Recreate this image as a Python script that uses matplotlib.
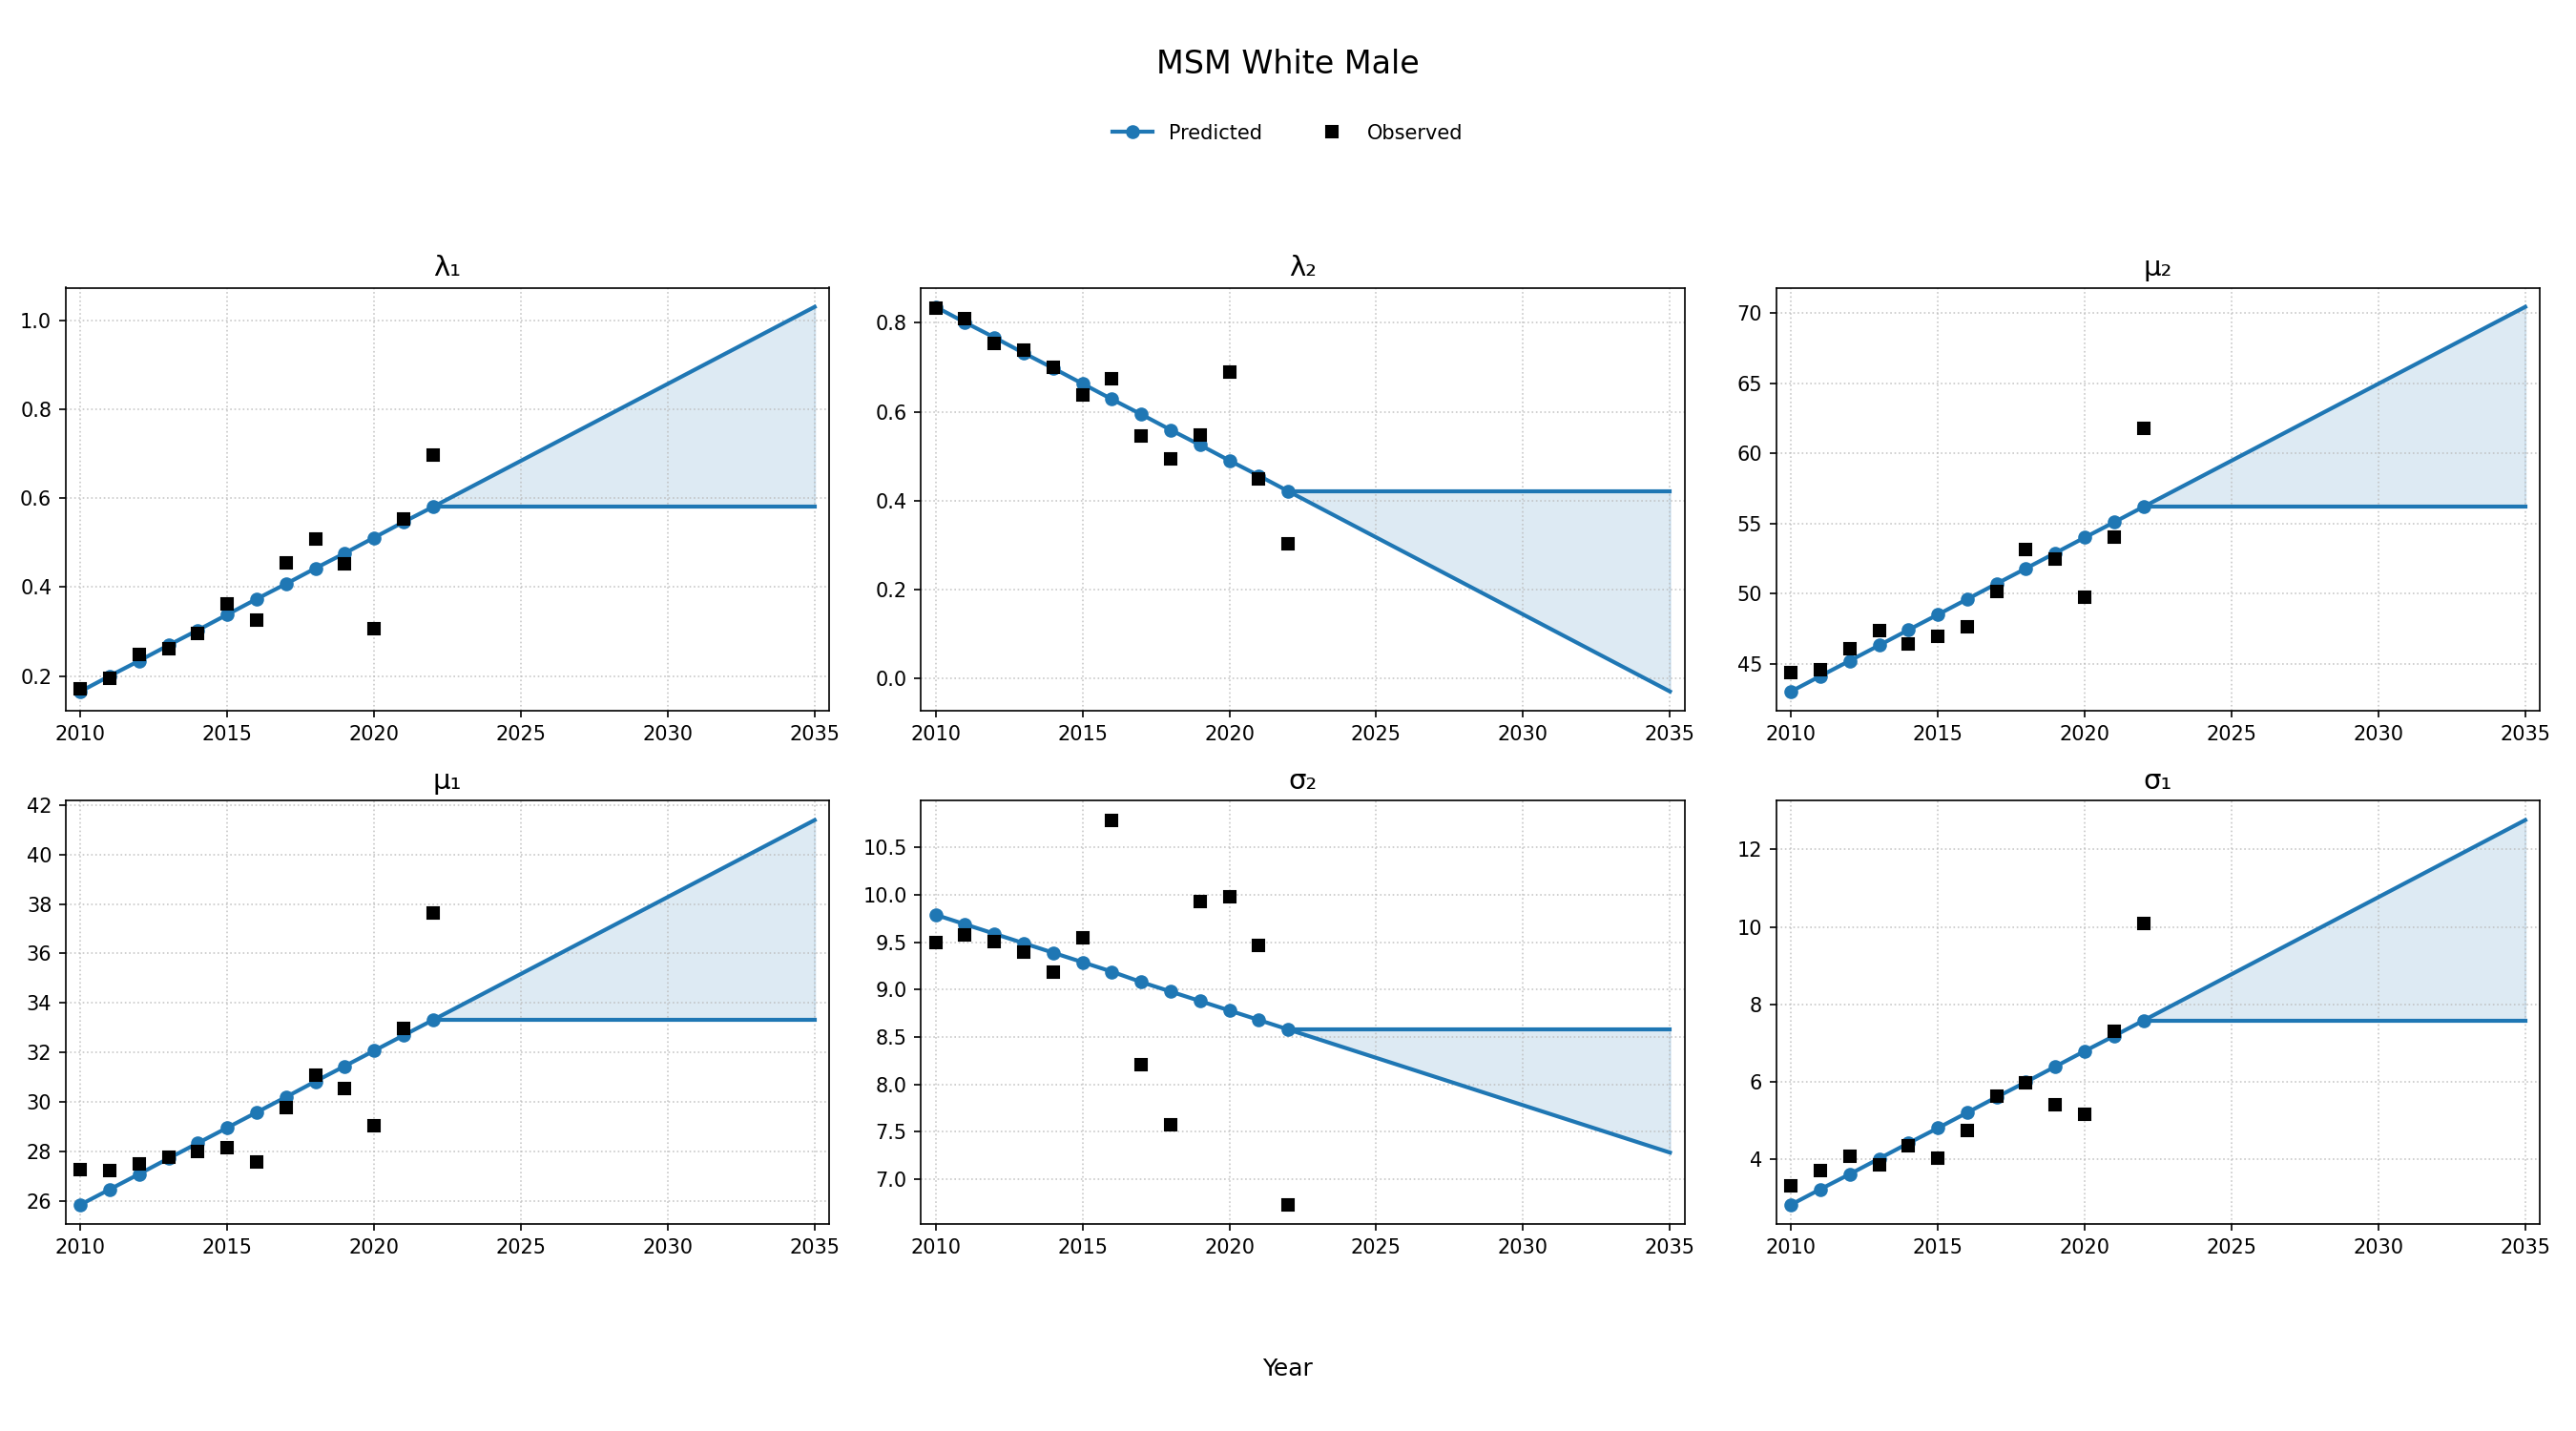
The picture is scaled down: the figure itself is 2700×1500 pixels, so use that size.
import numpy as np
import matplotlib.pyplot as plt
from matplotlib.lines import Line2D

# ------------------------------------------------------------
# Datos
# ------------------------------------------------------------
years = [2010, 2011, 2012, 2013, 2014, 2015, 2016, 2017, 2018, 2019, 2020, 2021, 2022]
proj_years = [2022, 2035]

titles = ['λ₁', 'λ₂', 'μ₂', 'μ₁', 'σ₂', 'σ₁']

# valores predichos (ajuste lineal por año)
pred_lambda1 = [0.165, 0.200, 0.234, 0.269, 0.303, 0.338, 0.373, 0.407, 0.442, 0.476, 0.511, 0.546, 0.580]
pred_lambda2 = [0.836, 0.801, 0.767, 0.732, 0.698, 0.663, 0.628, 0.594, 0.559, 0.525, 0.490, 0.456, 0.421]
pred_mu2 = [43.04, 44.14, 45.23, 46.33, 47.43, 48.52, 49.62, 50.72, 51.81, 52.91, 54.01, 55.10, 56.20]
pred_mu1 = [25.85, 26.47, 27.09, 27.72, 28.34, 28.96, 29.58, 30.20, 30.83, 31.45, 32.07, 32.69, 33.31]
pred_sigma2 = [9.79, 9.69, 9.59, 9.49, 9.39, 9.29, 9.19, 9.08, 8.98, 8.88, 8.78, 8.68, 8.58]
pred_sigma1 = [2.82, 3.22, 3.61, 4.01, 4.41, 4.80, 5.20, 5.60, 5.99, 6.39, 6.79, 7.18, 7.58]

# valores observados
obs_lambda1 = [0.171, 0.194, 0.248, 0.262, 0.296, 0.361, 0.326, 0.455, 0.508, 0.452, 0.307, 0.554, 0.696]
obs_lambda2 = [0.834, 0.810, 0.754, 0.738, 0.701, 0.637, 0.674, 0.545, 0.494, 0.547, 0.690, 0.448, 0.303]
obs_mu2 = [44.40, 44.57, 46.08, 47.40, 46.45, 46.94, 47.66, 50.14, 53.17, 52.47, 49.77, 54.03, 61.80]
obs_mu1 = [27.27, 27.22, 27.51, 27.77, 28.01, 28.17, 27.59, 29.79, 31.09, 30.56, 29.05, 32.97, 37.62]
obs_sigma2 = [9.50, 9.58, 9.51, 9.40, 9.19, 9.55, 10.79, 8.21, 7.57, 9.93, 9.98, 9.47, 6.73]
obs_sigma1 = [3.31, 3.71, 4.08, 3.86, 4.35, 4.03, 4.73, 5.62, 5.98, 5.41, 5.15, 7.29, 10.10]

# proyección: tendencia continuada (2022 -> 2035) y valor constante
trend_lambda1 = [0.580, 1.030]
trend_lambda2 = [0.421, -0.030]
trend_mu2 = [56.20, 70.45]
trend_mu1 = [33.31, 41.39]
trend_sigma2 = [8.58, 7.28]
trend_sigma1 = [7.58, 12.76]

flat_lambda1 = [0.580, 0.580]
flat_lambda2 = [0.421, 0.421]
flat_mu2 = [56.20, 56.20]
flat_mu1 = [33.31, 33.31]
flat_sigma2 = [8.58, 8.58]
flat_sigma1 = [7.58, 7.58]

preds = [pred_lambda1, pred_lambda2, pred_mu2, pred_mu1, pred_sigma2, pred_sigma1]
obss = [obs_lambda1, obs_lambda2, obs_mu2, obs_mu1, obs_sigma2, obs_sigma1]
trends = [trend_lambda1, trend_lambda2, trend_mu2, trend_mu1, trend_sigma2, trend_sigma1]
flats = [flat_lambda1, flat_lambda2, flat_mu2, flat_mu1, flat_sigma2, flat_sigma1]

# ------------------------------------------------------------
# Figura
# ------------------------------------------------------------
color = '#1f77b4'
fig, axes = plt.subplots(2, 3, figsize=(18, 10), dpi=150)
fig.subplots_adjust(left=0.0255, right=0.986, top=0.799, bottom=0.1447,
                    wspace=0.12, hspace=0.213)

for ax, title, p, o, tr, fl in zip(axes.flat, titles, preds, obss, trends, flats):
    ax.plot(years, p, '-o', color=color, linewidth=2, markersize=6)
    ax.plot(years, o, 's', color='black', markersize=6)
    ax.plot(proj_years, tr, '-', color=color, linewidth=2)
    ax.plot(proj_years, fl, '-', color=color, linewidth=2)
    ax.fill_between(proj_years, tr, fl, color=color, alpha=0.15)
    ax.set_title(title, fontsize=14)
    ax.set_xlim(2009.5, 2035.5)
    ax.set_xticks([2010, 2015, 2020, 2025, 2030, 2035])
    ax.grid(True, linestyle=':', color='#bbbbbb', alpha=0.8)

fig.suptitle('MSM White Male', fontsize=16, y=0.966)
fig.supxlabel('Year', fontsize=12, y=0.035)

handles = [
    Line2D([], [], color=color, marker='o', linewidth=2, markersize=6, label='Predicted'),
    Line2D([], [], color='black', marker='s', linestyle='None', markersize=6, label='Observed'),
]
fig.legend(handles=handles, loc='center', bbox_to_anchor=(0.5, 0.907), ncol=2,
           frameon=False, fontsize=10, columnspacing=2.5)

plt.savefig('out.png', dpi=150)
